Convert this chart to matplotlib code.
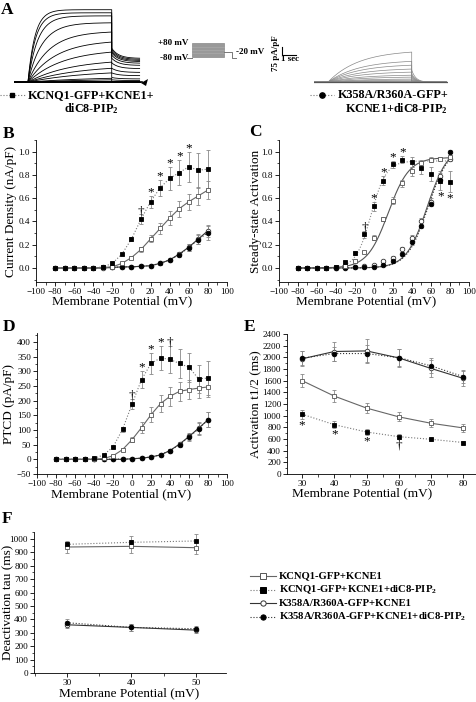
import numpy as np
import matplotlib
matplotlib.use('Agg')
import matplotlib.pyplot as plt
from matplotlib.ticker import MultipleLocator, FormatStrFormatter

plt.rcParams['font.family'] = ['Liberation Serif', 'DejaVu Serif']
plt.rcParams['mathtext.fontset'] = 'custom'
plt.rcParams['mathtext.rm'] = 'Liberation Serif:bold'
plt.rcParams['mathtext.default'] = 'rm'

W, H = 477, 702

# ---- data -------------------------------------------------------------
volts = np.arange(-80, 81, 10)

# panel A: end-of-step current (fraction of full scale), rise tau (s), tail start
wt_amp = [0, 0, 0, 0.005, 0.01, 0.03, 0.05, 0.12, 0.18, 0.26, 0.39, 0.52, 0.65, 0.77, 0.86, 0.90, 0.94]
wt_tau = [5, 5, 5, 5, 5, 5, 4.5, 4, 3.5, 3, 2.5, 2, 1.5, 1.0, 0.7, 0.55, 0.5]
wt_tail = [0, 0, 0, 0.003, 0.006, 0.01, 0.03, 0.06, 0.12, 0.18, 0.25, 0.31, 0.35, 0.38, 0.40, 0.42, 0.44]
mut_amp = [0, 0, 0, 0, 0, 0.003, 0.006, 0.013, 0.026, 0.04, 0.065, 0.09, 0.13, 0.17, 0.22, 0.27, 0.39]
mut_tau = 2.2

# panel B: current density (nA/pF)
b_sq_open = [0, 0, 0, 0, 0, 0.005, 0.01, 0.04, 0.09, 0.16, 0.25, 0.34, 0.43, 0.51, 0.57, 0.62, 0.67]
b_sq_open_err = [0, 0, 0, 0, 0, 0.003, 0.005, 0.01, 0.015, 0.02, 0.03, 0.05, 0.06, 0.07, 0.07, 0.08, 0.08]
b_sq_fill = [0, 0, 0, 0, 0, 0.01, 0.04, 0.12, 0.25, 0.42, 0.57, 0.69, 0.77, 0.82, 0.87, 0.84, 0.85]
b_sq_fill_err = [0, 0, 0, 0, 0, 0.005, 0.01, 0.01, 0.02, 0.04, 0.05, 0.07, 0.10, 0.11, 0.13, 0.15, 0.16]
b_ci_open = [0, 0, 0, 0, 0, 0, 0.005, 0.01, 0.01, 0.015, 0.02, 0.04, 0.07, 0.12, 0.18, 0.25, 0.32]
b_ci_open_err = [0, 0, 0, 0, 0, 0, 0, 0, 0, 0.005, 0.005, 0.01, 0.01, 0.02, 0.03, 0.04, 0.05]
b_ci_fill = [0, 0, 0, 0, 0, 0.005, 0.005, 0.01, 0.01, 0.015, 0.02, 0.04, 0.07, 0.115, 0.175, 0.245, 0.305]
b_ci_fill_err = [0, 0, 0, 0, 0, 0, 0, 0, 0, 0.005, 0.005, 0.01, 0.01, 0.02, 0.03, 0.04, 0.06]
b_sig = [(10, '†'), (20, '*'), (30, '*'), (40, '*'), (50, '*'), (60, '*')]

# panel C: steady-state activation + Boltzmann fits (Vhalf, k, max)
c_sq_open = [0, 0, 0, 0, 0.01, 0.02, 0.06, 0.14, 0.26, 0.42, 0.58, 0.73, 0.83, 0.90, 0.93, 0.94, 0.95]
c_sq_open_err = [0, 0, 0, 0, 0.005, 0.005, 0.01, 0.01, 0.02, 0.02, 0.03, 0.03, 0.04, 0.03, 0.02, 0.01, 0.01]
c_sq_fill = [0, 0, 0, 0, 0.01, 0.05, 0.13, 0.29, 0.53, 0.75, 0.89, 0.93, 0.91, 0.86, 0.81, 0.75, 0.74]
c_sq_fill_err = [0, 0, 0, 0, 0.005, 0.01, 0.02, 0.03, 0.04, 0.04, 0.03, 0.03, 0.04, 0.05, 0.06, 0.08, 0.09]
c_ci_open = [0, 0, 0, 0, 0, 0.005, 0.01, 0.02, 0.03, 0.06, 0.09, 0.16, 0.26, 0.40, 0.57, 0.79, 0.94]
c_ci_open_err = [0, 0, 0, 0, 0, 0, 0, 0.005, 0.005, 0.01, 0.01, 0.02, 0.02, 0.03, 0.03, 0.03, 0.02]
c_ci_fill = [0, 0, 0, 0, 0, 0, 0.005, 0.01, 0.01, 0.03, 0.06, 0.12, 0.22, 0.36, 0.55, 0.76, 1.00]
c_ci_fill_err = [0, 0, 0, 0, 0, 0, 0, 0.005, 0.005, 0.01, 0.01, 0.02, 0.02, 0.02, 0.02, 0.03, 0.01]
c_fit_sq_open = (15, 11, 0.95)
c_fit_sq_fill = (-3, 8, 0.92)
c_fit_ci_open = (56, 11, 1.05)
c_fit_ci_fill = (57, 11, 1.05)
c_sig_up = [(-10, '†'), (0, '*'), (10, '*'), (20, '*'), (30, '*')]
c_sig_down = [(70, '*'), (80, '*')]

# panel D: PTCD (pA/pF)
d_sq_open = [0, 0, 0, 0, 0, 3, 12, 33, 67, 108, 152, 190, 215, 232, 238, 243, 247]
d_sq_open_err = [0, 0, 0, 0, 0, 2, 4, 5, 8, 18, 25, 30, 33, 33, 33, 35, 35]
d_sq_fill = [0, 0, 0, 0, 3, 15, 42, 102, 188, 272, 327, 346, 341, 327, 314, 275, 277]
d_sq_fill_err = [0, 0, 0, 0, 2, 3, 5, 8, 17, 30, 37, 42, 45, 48, 50, 48, 57]
d_ci_open = [0, 0, 0, 0, 0, 0, 0, 0, 2, 4, 8, 15, 30, 52, 78, 106, 135]
d_ci_open_err = [0, 0, 0, 0, 0, 0, 0, 1, 1, 2, 3, 4, 6, 8, 12, 20, 25]
d_ci_fill = [0, 0, 0, 0, 0, 0, 1, 1, 2, 4, 8, 16, 30, 50, 76, 104, 135]
d_ci_fill_err = [0, 0, 0, 0, 0, 0, 0, 1, 1, 2, 3, 4, 6, 8, 12, 20, 25]
d_sig = [(0, '†'), (10, '*'), (20, '*'), (30, '*'), (40, '†')]

# panel E: activation t1/2 (ms)
e_volts = [30, 40, 50, 60, 70, 80]
e_sq_open = [1600, 1335, 1130, 980, 870, 790]
e_sq_open_err = [110, 100, 85, 75, 65, 65]
e_sq_fill = [1025, 845, 720, 640, 595, 540]
e_sq_fill_err = [80, 60, 55, 40, 30, 30]
e_ci_open = [1975, 2100, 2110, 1990, 1810, 1640]
e_ci_open_err = [130, 170, 210, 150, 150, 130]
e_ci_fill = [1985, 2065, 2065, 1995, 1855, 1670]
e_ci_fill_err = [120, 120, 150, 150, 130, 110]
e_sig = [(30, '*'), (40, '*'), (50, '*'), (60, '†')]

# panel F: deactivation tau (ms)
f_volts = [30, 40, 50]
f_sq_open = [940, 945, 935]
f_sq_open_err = [45, 50, 50]
f_sq_fill = [960, 975, 985]
f_sq_fill_err = [20, 45, 50]
f_ci_open = [360, 340, 320]
f_ci_open_err = [25, 25, 25]
f_ci_fill = [375, 340, 330]
f_ci_fill_err = [25, 25, 20]

legend_labels = ['KCNQ1-GFP+KCNE1',
                 'KCNQ1-GFP+KCNE1+diC8-PIP$_2$',
                 'K358A/R360A-GFP+KCNE1',
                 'K358A/R360A-GFP+KCNE1+diC8-PIP$_2$']

# ---- helpers ----------------------------------------------------------
fig = plt.figure(figsize=(W / 100, H / 100), dpi=100)
over = fig.add_axes([0, 0, 1, 1])
over.set_xlim(0, W)
over.set_ylim(H, 0)
over.axis('off')


def px_axes(l, t, r, b):
    ax = fig.add_axes([l / W, 1 - b / H, (r - l) / W, (b - t) / H])
    ax._px = (l, t, r, b)
    return ax


STY = {
    'sq_open': dict(marker='s', mfc='white', mec='#555555', ls='-', color='#666666'),
    'sq_fill': dict(marker='s', mfc='black', mec='black', ls=':', color='#777777'),
    'ci_open': dict(marker='o', mfc='white', mec='#333333', ls='-', color='#333333'),
    'ci_fill': dict(marker='o', mfc='black', mec='black', ls=':', color='#333333'),
}


def series(ax, x, y, err, kind, line=True):
    st = dict(STY[kind])
    if not line:
        st['ls'] = 'none'
    ax.errorbar(x, y, yerr=err, ms=3.3, lw=0.8, mew=0.6, elinewidth=0.6,
                capsize=1.5, capthick=0.6, ecolor='#888888', zorder=3, **st)


def style(ax, xlabel, ylabel, xl_pos, yl_x):
    # xl_pos / yl_x: label centres in figure pixels
    for s in ['top', 'right']:
        ax.spines[s].set_visible(False)
    for s in ['left', 'bottom']:
        ax.spines[s].set_linewidth(0.6)
    ax.tick_params(direction='out', length=3, width=0.6, labelsize=6.6, pad=1.2)
    ax.tick_params(which='minor', direction='out', length=1.8, width=0.5)
    l, t, r, b = ax._px
    ax.set_xlabel(xlabel, fontsize=9.5, va='center')
    ax.set_ylabel(ylabel, fontsize=9.5, va='center')
    ax.xaxis.set_label_coords((xl_pos[0] - l) / (r - l), (b - xl_pos[1]) / (b - t))
    ax.yaxis.set_label_coords((yl_x - l) / (r - l), 0.5)


def sig(ax, x, y, err, marks, pad, up=True):
    for v, m in marks:
        i = list(x).index(v)
        yy = y[i] + err[i] + pad if up else y[i] - err[i] - pad
        ax.text(v, yy, m, ha='center', va='center', fontsize=9.5)


def boltz(v, p):
    vh, k, mx = p
    return mx / (1 + np.exp(-(v - vh) / k))

# ---- panel A: traces --------------------------------------------------
t_base = np.linspace(-1, 0, 10)
t_step = np.linspace(0, 6, 200)
t_tail = np.linspace(6, 8, 80)

axA1 = px_axes(14, 2, 148, 86)
axA2 = px_axes(314, 2, 448, 86)
for ax in (axA1, axA2):
    ax.set_xlim(-1, 8.6)
    ax.set_ylim(-0.05, 1.04)
    ax.axis('off')

for a, tau, tl in zip(wt_amp, wt_tau, wt_tail):
    rise = a * (1 - np.exp(-t_step / tau)) / (1 - np.exp(-6 / tau))
    tail = tl * (0.7 + 0.3 * np.exp(-(t_tail - 6) / 0.5))
    t = np.concatenate([t_base, t_step, t_tail])
    y = np.concatenate([np.zeros_like(t_base), rise, tail])
    axA1.plot(t, y, color='black', lw=0.6)
axA1.plot([-1, 8.2], [0, 0], color='black', lw=1.2)

for a in mut_amp:
    rise = a * (1 - np.exp(-t_step / mut_tau)) / (1 - np.exp(-6 / mut_tau))
    tail = 0.4 * a * np.exp(-(t_tail - 6) / 0.3)
    t = np.concatenate([t_base, t_step, t_tail, [8.5]])
    y = np.concatenate([np.zeros_like(t_base), rise, tail, [0]])
    axA2.plot(t, y, color='#888888', lw=0.5)
axA2.plot([-1, 8.5], [0, 0], color='#555555', lw=0.9)

over.fill([141, 148, 146], [83, 79, 86], color='black', lw=0)

# voltage protocol
over.add_patch(plt.Rectangle((192, 43), 32, 14, facecolor='#999999', edgecolor='#888888', lw=0.5))
for yy in (47, 50, 53):
    over.plot([192, 224], [yy, yy], color='#aaaaaa', lw=0.5)
over.plot([187, 192], [57.5, 57.5], color='#777777', lw=0.7)
over.plot([224, 232, 232, 236], [51.5, 51.5, 57.5, 57.5], color='#777777', lw=0.7)
over.text(188, 43, '+80 mV', ha='right', va='center', fontsize=6.5, fontweight='bold')
over.text(188, 58, '-80 mV', ha='right', va='center', fontsize=6.5, fontweight='bold')
over.text(236, 52, '-20 mV', ha='left', va='center', fontsize=6.5, fontweight='bold')

# scale bar
over.plot([282, 282, 296], [47, 55, 55], color='black', lw=0.8)
over.text(276, 53, '75 pA/pF', rotation=90, ha='center', va='center', fontsize=6.5, fontweight='bold')
over.text(290, 59, '1 sec', ha='center', va='center', fontsize=6.5, fontweight='bold')

# panel A labels
over.plot([0, 25], [95, 95], color='#777777', ls=':', lw=0.8)
over.plot([12.5], [95], marker='s', color='black', ms=3.5)
over.text(28, 95, 'KCNQ1-GFP+KCNE1+', ha='left', va='center', fontsize=8.7, fontweight='bold')
over.text(91, 109, 'diC8-PIP$_2$', ha='center', va='center', fontsize=8.7, fontweight='bold')
over.plot([310, 334], [95, 95], color='#777777', ls=':', lw=0.8)
over.plot([322], [95], marker='o', color='black', ms=3.8)
over.text(338, 95, 'K358A/R360A-GFP+', ha='left', va='center', fontsize=8.7, fontweight='bold')
over.text(396, 109, 'KCNE1+diC8-PIP$_2$', ha='center', va='center', fontsize=8.7, fontweight='bold')

# ---- panel B ----------------------------------------------------------
axB = px_axes(36, 140, 227, 282)
series(axB, volts, b_ci_open, b_ci_open_err, 'ci_open')
series(axB, volts, b_ci_fill, b_ci_fill_err, 'ci_fill')
series(axB, volts, b_sq_open, b_sq_open_err, 'sq_open')
series(axB, volts, b_sq_fill, b_sq_fill_err, 'sq_fill')
sig(axB, volts, b_sq_fill, b_sq_fill_err, b_sig, 0.03)
axB.set_xlim(-100, 100)
axB.set_ylim(-0.12, 1.1)
axB.xaxis.set_major_locator(MultipleLocator(20))
axB.xaxis.set_minor_locator(MultipleLocator(10))
axB.yaxis.set_major_locator(MultipleLocator(0.2))
axB.yaxis.set_minor_locator(MultipleLocator(0.1))
axB.yaxis.set_major_formatter(FormatStrFormatter('%.1f'))
style(axB, 'Membrane Potential (mV)', 'Current Density (nA/pF)', (122, 301), 11)

# ---- panel C ----------------------------------------------------------
axC = px_axes(279, 140, 469, 282)
vv = np.linspace(-80, 80, 300)
axC.plot(vv, boltz(vv, c_fit_sq_open), color='#555555', lw=0.8, ls='-')
axC.plot(vv, boltz(vv, c_fit_sq_fill), color='#888888', lw=0.8, ls=':')
axC.plot(vv, boltz(vv, c_fit_ci_open), color='#555555', lw=0.8, ls='-')
axC.plot(vv, boltz(vv, c_fit_ci_fill), color='#333333', lw=0.8, ls=':')
series(axC, volts, c_ci_open, c_ci_open_err, 'ci_open', line=False)
series(axC, volts, c_ci_fill, c_ci_fill_err, 'ci_fill', line=False)
series(axC, volts, c_sq_open, c_sq_open_err, 'sq_open', line=False)
series(axC, volts, c_sq_fill, c_sq_fill_err, 'sq_fill', line=False)
sig(axC, volts, c_sq_fill, c_sq_fill_err, c_sig_up, 0.03)
sig(axC, volts, c_sq_fill, c_sq_fill_err, c_sig_down, 0.05, up=False)
axC.set_xlim(-100, 100)
axC.set_ylim(-0.12, 1.1)
axC.xaxis.set_major_locator(MultipleLocator(20))
axC.xaxis.set_minor_locator(MultipleLocator(10))
axC.yaxis.set_major_locator(MultipleLocator(0.2))
axC.yaxis.set_minor_locator(MultipleLocator(0.1))
axC.yaxis.set_major_formatter(FormatStrFormatter('%.1f'))
style(axC, 'Membrane Potential (mV)', 'Steady-state Activation', (366, 301), 256)

# ---- panel D ----------------------------------------------------------
axD = px_axes(37, 333, 227, 474)
series(axD, volts, d_ci_open, d_ci_open_err, 'ci_open')
series(axD, volts, d_ci_fill, d_ci_fill_err, 'ci_fill')
series(axD, volts, d_sq_open, d_sq_open_err, 'sq_open')
series(axD, volts, d_sq_fill, d_sq_fill_err, 'sq_fill')
sig(axD, volts, d_sq_fill, d_sq_fill_err, d_sig, 12)
axD.set_xlim(-100, 100)
axD.set_ylim(-50, 431)
axD.xaxis.set_major_locator(MultipleLocator(20))
axD.xaxis.set_minor_locator(MultipleLocator(10))
axD.yaxis.set_major_locator(MultipleLocator(50))
axD.yaxis.set_minor_locator(MultipleLocator(25))
style(axD, 'Membrane Potential (mV)', 'PTCD (pA/pF)', (121, 494), 9)

# ---- panel E ----------------------------------------------------------
axE = px_axes(287, 334, 477, 474)
series(axE, e_volts, e_ci_open, e_ci_open_err, 'ci_open')
series(axE, e_volts, e_ci_fill, e_ci_fill_err, 'ci_fill')
series(axE, e_volts, e_sq_open, e_sq_open_err, 'sq_open')
series(axE, e_volts, e_sq_fill, e_sq_fill_err, 'sq_fill')
sig(axE, e_volts, e_sq_fill, e_sq_fill_err, e_sig, 110, up=False)
axE.set_xlim(25.3, 84.3)
axE.set_ylim(0, 2400)
axE.xaxis.set_major_locator(MultipleLocator(10))
axE.xaxis.set_minor_locator(MultipleLocator(5))
axE.yaxis.set_major_locator(MultipleLocator(200))
axE.yaxis.set_minor_locator(MultipleLocator(100))
style(axE, 'Membrane Potential (mV)', 'Activation t1/2 (ms)', (362, 493), 256)

# ---- panel F ----------------------------------------------------------
axF = px_axes(34, 532, 226, 673)
series(axF, f_volts, f_ci_open, f_ci_open_err, 'ci_open')
series(axF, f_volts, f_ci_fill, f_ci_fill_err, 'ci_fill')
series(axF, f_volts, f_sq_open, f_sq_open_err, 'sq_open')
series(axF, f_volts, f_sq_fill, f_sq_fill_err, 'sq_fill')
axF.set_xlim(24.9, 54.7)
axF.set_ylim(0, 1052)
axF.xaxis.set_major_locator(MultipleLocator(10))
axF.xaxis.set_minor_locator(MultipleLocator(5))
axF.yaxis.set_major_locator(MultipleLocator(100))
axF.yaxis.set_minor_locator(MultipleLocator(50))
style(axF, 'Membrane Potential (mV)', 'Deactivation tau (ms)', (129, 693), 8)

# ---- legend (bottom right) -------------------------------------------
for i, (kind, lab) in enumerate(zip(['sq_open', 'sq_fill', 'ci_open', 'ci_fill'], legend_labels)):
    yy = 576 + i * 13.7
    st = STY[kind]
    over.plot([250, 276], [yy, yy], color=st['color'], ls=st['ls'], lw=0.8)
    over.plot([263], [yy], marker=st['marker'], mfc=st['mfc'], mec=st['mec'], ms=3.8, mew=0.7)
    over.text(279, yy, lab, ha='left', va='center', fontsize=7.7, fontweight='bold')

# panel letters
for x, y, s in [(1, 2, 'A'), (3, 126, 'B'), (249, 124, 'C'), (3, 319, 'D'), (244, 319, 'E'), (2, 511, 'F')]:
    over.text(x, y, s, ha='left', va='top', fontsize=12.5, fontweight='bold')

fig.savefig('out.png', dpi=100)
